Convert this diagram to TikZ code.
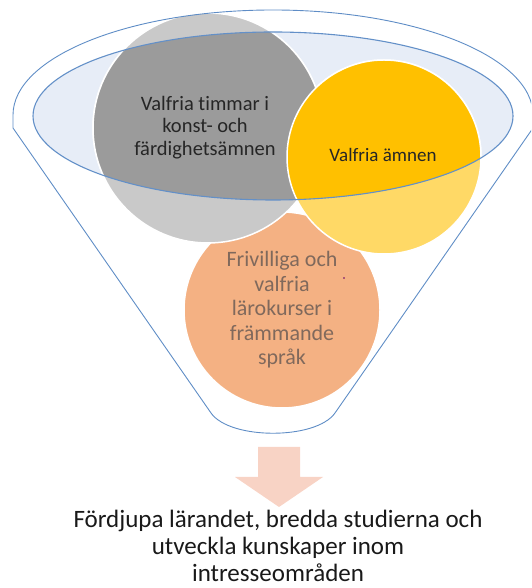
\documentclass[tikz,border=0pt]{standalone}
\usepackage{fontspec}
\setmainfont[Ligatures={NoCommon}]{Carlito}
\definecolor{ellfill}{HTML}{E7EDF7}
\definecolor{ellline}{HTML}{6390C8}
\definecolor{funline}{HTML}{5F8DC6}
\definecolor{grayL}{HTML}{C9C9C9}
\definecolor{grayD}{HTML}{9B9B9B}
\definecolor{goldL}{HTML}{FFD966}
\definecolor{goldD}{HTML}{FFC000}
\definecolor{orangeC}{HTML}{F4B183}
\definecolor{orangeT}{HTML}{80695C}
\definecolor{arrowC}{HTML}{F8D3C5}
\definecolor{textD}{HTML}{262626}
\begin{document}
\begin{tikzpicture}[x=1pt,y=1pt,
  bubble/.style={circle, inner sep=0pt, draw=white, line width=1.5pt},
  ctext/.style={align=center, inner sep=0pt},
]
\useasboundingbox (0,0) rectangle (531,588);
\clip (0,0) rectangle (531,588);
% inner ellipse fill
\fill[ellfill] (273,472) ellipse[x radius=240, y radius=84];
% circles (light parts)
\node (orangec) [bubble, fill=orangeC, minimum size=196pt] at (282,278) {};
\node (grayc) [bubble, fill=grayL, minimum size=230pt] at (208,460) {};
\node (goldc) [bubble, fill=goldL, minimum size=194pt] at (384,431) {};
% darker parts inside the ellipse
\begin{scope}
  \clip (273,472) ellipse[x radius=240, y radius=84];
  \node (grayin) [bubble, fill=grayD, minimum size=230pt] at (grayc.center) {};
  \node (goldin) [bubble, fill=goldD, minimum size=194pt] at (goldc.center) {};
\end{scope}
% outlines
\draw[ellline, line width=1.1pt] (273,472) ellipse[x radius=240, y radius=84];
\draw[funline, line width=0.9pt] (13,473) arc[start angle=180, end angle=0, x radius=260, y radius=105]
  -- (533,460) -- (335,175) .. controls (316,148) and (230,148) .. (211,175) -- (13,460) -- cycle;
% texts
\node (graytxt) [ctext, text=textD, font=\fontsize{20.5}{22.5}\selectfont] at (205,460.5)
  {Valfria timmar i\\konst- och\\färdighetsämnen};
\node (goldtxt) [ctext, text=textD, font=\fontsize{19}{21}\selectfont] at (383,433) {Valfria ämnen};
\node (orangetxt) [ctext, text=orangeT, font=\fontsize{22}{24.5}\selectfont] at (282,278)
  {Frivilliga och\\valfria\\lärokurser i\\främmande\\språk};
\fill[violet!80!black] (344,310) circle[radius=0.9];
% arrow
\fill[arrowC] (258,141) -- (300,141) -- (300,111) -- (323,111) -- (279,81) -- (235,111) -- (258,111) -- cycle;
% bottom text
\node (goal) [ctext, text=black!90, font=\fontsize{25}{27}\selectfont] at (278,42)
  {Fördjupa lärandet, bredda studierna och\\utveckla kunskaper inom\\intresseområden};
\end{tikzpicture}
\end{document}
